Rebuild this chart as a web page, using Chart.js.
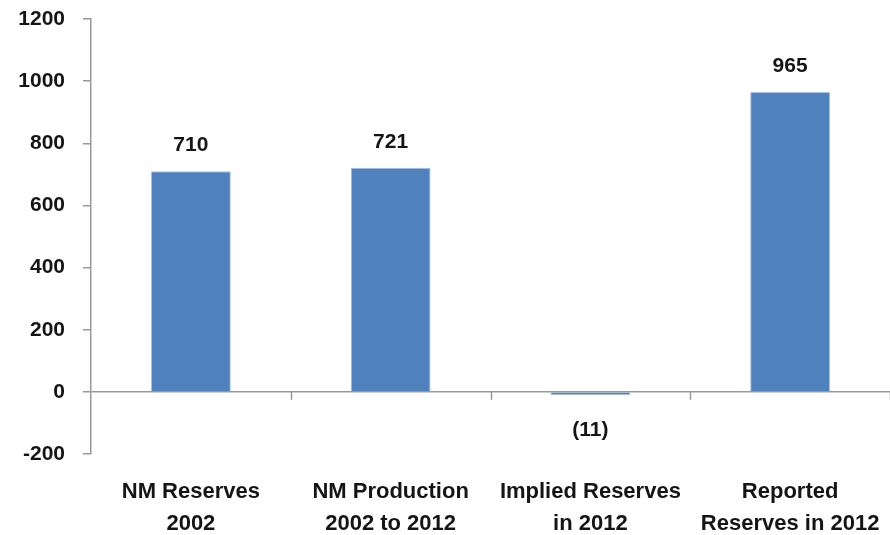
<!DOCTYPE html>
<html>
<head>
<meta charset="utf-8">
<script src="https://cdn.jsdelivr.net/npm/chart.js@4.4.1/dist/chart.umd.min.js"></script>
<style>
  html, body { margin: 0; padding: 0; background: #fff; }
  #wrap { width: 890px; height: 535px; }
</style>
</head>
<body>
<div id="wrap"><canvas id="reservesChart" width="890" height="535"></canvas></div>
<script>
const categories = [
    ['NM Reserves', '2002'],
    ['NM Production', '2002 to 2012'],
    ['Implied Reserves', 'in 2012'],
    ['Reported', 'Reserves in 2012']
];
const reserves = [710, 721, -11, 965];
const yTicks = [-200, 0, 200, 400, 600, 800, 1000, 1200];

const FONT = '"Liberation Sans", Arial, sans-serif';
const AXIS_GREY = '#999999';
const TEXT = '#151515';

// value labels above / below each bar, negatives in brackets
const barLabels = {
    id: 'barLabels',
    afterDatasetsDraw(chart) {
        const ctx = chart.ctx;
        const meta = chart.getDatasetMeta(0);
        ctx.save();
        ctx.font = 'bold 21px ' + FONT;
        ctx.fillStyle = TEXT;
        ctx.textAlign = 'center';
        ctx.textBaseline = 'middle';
        meta.data.forEach((bar, i) => {
            const v = reserves[i];
            const txt = v < 0 ? '(' + Math.abs(v) + ')' : String(v);
            const y = v < 0 ? bar.y + 35 : bar.y - 26;
            ctx.fillText(txt, bar.x, y);
        });
        ctx.restore();
    }
};

// category tick marks hanging down from the zero line
const zeroTicks = {
    id: 'zeroTicks',
    afterDatasetsDraw(chart) {
        const ctx = chart.ctx;
        const xs = chart.scales.x;
        const y0 = chart.scales.y.getPixelForValue(0);
        ctx.save();
        ctx.strokeStyle = AXIS_GREY;
        ctx.lineWidth = 1.5;
        for (let i = 1; i <= categories.length; i++) {
            const x = i < categories.length
                ? (xs.getPixelForValue(i - 1) + xs.getPixelForValue(i)) / 2
                : xs.right;
            ctx.beginPath();
            ctx.moveTo(Math.round(x) + 0.5, y0);
            ctx.lineTo(Math.round(x) + 0.5, y0 + 8);
            ctx.stroke();
        }
        ctx.restore();
    }
};

new Chart(document.getElementById('reservesChart').getContext('2d'), {
    type: 'bar',
    data: {
        labels: categories,
        datasets: [{
            data: reserves,
            backgroundColor: '#4F81BD',
            borderColor: '#A9C2E3',
            borderWidth: 1,
            barPercentage: 0.4,
            categoryPercentage: 1
        }]
    },
    options: {
        responsive: false,
        animation: false,
        layout: { padding: { top: 19, right: 0, left: 0, bottom: 0 } },
        plugins: {
            legend: { display: false },
            tooltip: { enabled: false }
        },
        scales: {
            x: {
                grid: { display: false },
                border: { display: false },
                ticks: {
                    color: TEXT,
                    padding: 14,
                    maxRotation: 0,
                    autoSkip: false,
                    font: { family: FONT, size: 22, weight: 'bold', lineHeight: 1.45 }
                },
                afterFit(scale) {
                    scale.height = 81;
                    scale.paddingLeft = 0;
                    scale.paddingRight = 0;
                }
            },
            y: {
                min: -200,
                max: 1200,
                afterBuildTicks(scale) {
                    scale.ticks = yTicks.map(v => ({ value: v }));
                },
                border: { display: true, color: AXIS_GREY, width: 1.5 },
                grid: {
                    drawOnChartArea: true,
                    color: c => c.tick && c.tick.value === 0 ? AXIS_GREY : 'rgba(0,0,0,0)',
                    lineWidth: 1.5,
                    tickColor: AXIS_GREY,
                    tickLength: 8
                },
                ticks: {
                    color: TEXT,
                    padding: 18,
                    callback: v => String(v),
                    font: { family: FONT, size: 21, weight: 'bold' }
                },
                afterFit(scale) {
                    scale.width = 91;
                    scale.paddingTop = 0;
                    scale.paddingBottom = 0;
                }
            }
        }
    },
    plugins: [barLabels, zeroTicks]
});
</script>
</body>
</html>
